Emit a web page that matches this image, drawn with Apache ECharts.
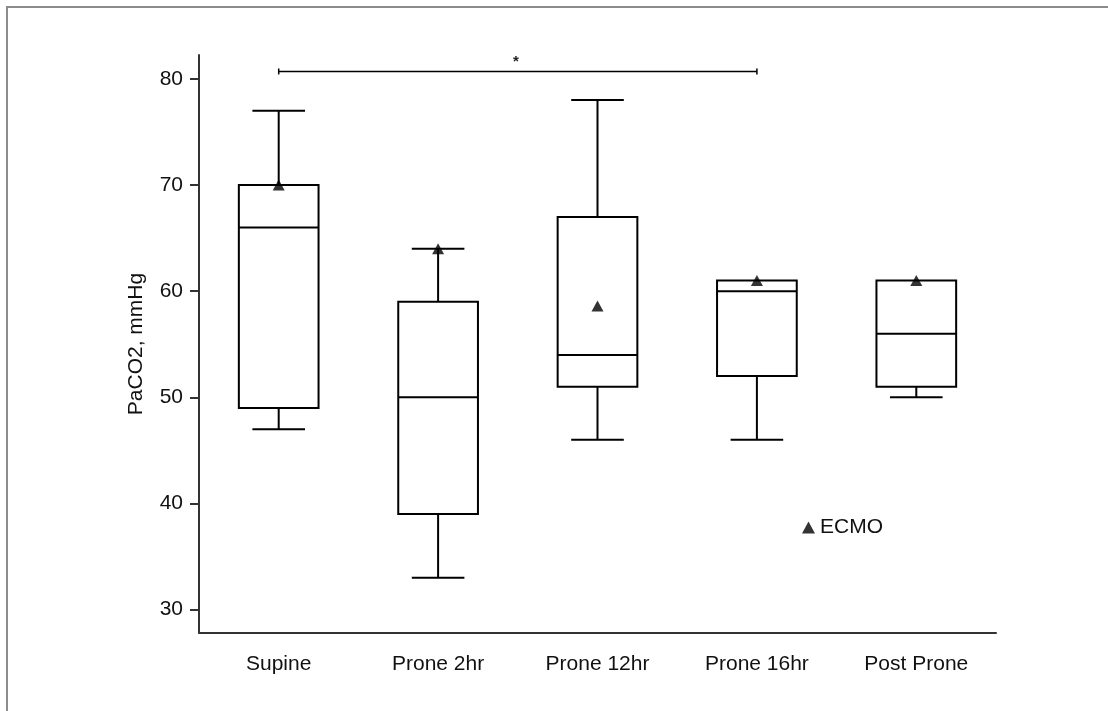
<!DOCTYPE html>
<html><head><meta charset="utf-8">
<script src="https://cdn.jsdelivr.net/npm/echarts@6/dist/echarts.min.js"></script>
<style>html,body{margin:0;padding:0;background:#fff}#c{width:1108px;height:711px}</style>
</head><body><div id="c"></div>
<script>
const categories = ['Supine', 'Prone 2hr', 'Prone 12hr', 'Prone 16hr', 'Post Prone'];
// [low whisker, Q1, median, Q3, high whisker]
const boxLow    = [47, 33, 46, 46, 50];
const boxQ1     = [49, 39, 51, 52, 51];
const boxMedian = [66, 50, 54, 60, 56];
const boxQ3     = [70, 59, 67, 61, 61];
const boxHigh   = [77, 64, 78, 61, 61];
const ecmo      = [70, 64, 58.6, 61, 61];
const yTicks    = [30, 40, 50, 60, 70, 80];
const sigFrom = 'Supine', sigTo = 'Prone 16hr', sigY = 80.7, sigLabel = '*';

const FONT = '"Liberation Sans", Arial, sans-serif';
const boxData = categories.map((c, i) => [i, boxLow[i], boxQ1[i], boxMedian[i], boxQ3[i], boxHigh[i]]);

const chart = echarts.init(document.getElementById('c'), null, {renderer: 'canvas'});
chart.setOption({
  backgroundColor: '#fff',
  animation: false,
  textStyle: {fontFamily: FONT},
  graphic: [{
    type: 'rect', silent: true,
    shape: {x: 7, y: 7, width: 1300, height: 900},
    style: {fill: 'none', stroke: '#8c8c8c', lineWidth: 2}
  }],
  grid: {left: 199, right: 112, top: 55, bottom: 78, containLabel: false},
  legend: {
    data: ['ECMO'], icon: 'triangle', left: 802, top: 517, padding: 0,
    itemWidth: 13, itemHeight: 12,
    textStyle: {fontSize: 21, color: '#111', fontFamily: FONT}
  },
  xAxis: {
    type: 'category', data: categories, boundaryGap: true,
    axisLine: {lineStyle: {color: '#333', width: 2}},
    axisTick: {alignWithLabel: true, length: 9, lineStyle: {color: '#333', width: 2}},
    axisLabel: {fontSize: 21, color: '#111', margin: 21, fontFamily: FONT},
    splitLine: {show: false}
  },
  yAxis: {
    type: 'value', min: 27.8, max: 82.25,
    name: 'PaCO2, mmHg', nameLocation: 'middle', nameGap: 52, nameRotate: 90,
    nameTextStyle: {fontSize: 21, color: '#111', fontFamily: FONT},
    axisLine: {show: true, lineStyle: {color: '#333', width: 2}},
    axisTick: {show: true, length: 9, customValues: yTicks, lineStyle: {color: '#333', width: 2}},
    axisLabel: {fontSize: 21, color: '#111', margin: 16, customValues: yTicks, fontFamily: FONT},
    splitLine: {show: false}
  },
  series: [
    {
      type: 'custom', name: 'box', data: boxData, z: 2,
      renderItem: function (params, api) {
        const i = api.value(0);
        const band = api.size([1, 0])[0];
        const hw = band * 0.25, cw = band * 0.165;
        const x = api.coord([i, 0])[0];
        const yl = api.coord([i, api.value(1)])[1];
        const y1 = api.coord([i, api.value(2)])[1];
        const ym = api.coord([i, api.value(3)])[1];
        const y3 = api.coord([i, api.value(4)])[1];
        const yh = api.coord([i, api.value(5)])[1];
        const st = {stroke: '#000', lineWidth: 2, fill: null};
        const ch = [
          {type: 'rect', shape: {x: x - hw, y: y3, width: 2 * hw, height: y1 - y3}, style: {stroke: '#000', lineWidth: 2, fill: '#fff'}},
          {type: 'line', shape: {x1: x - hw, y1: ym, x2: x + hw, y2: ym}, style: st}
        ];
        if (Math.abs(yh - y3) > 0.5) {
          ch.push({type: 'line', shape: {x1: x, y1: y3, x2: x, y2: yh}, style: st});
          ch.push({type: 'line', shape: {x1: x - cw, y1: yh, x2: x + cw, y2: yh}, style: st});
        }
        if (Math.abs(yl - y1) > 0.5) {
          ch.push({type: 'line', shape: {x1: x, y1: y1, x2: x, y2: yl}, style: st});
          ch.push({type: 'line', shape: {x1: x - cw, y1: yl, x2: x + cw, y2: yl}, style: st});
        }
        return {type: 'group', children: ch};
      }
    },
    {
      type: 'custom', name: 'sig', data: [[categories.indexOf(sigFrom), categories.indexOf(sigTo), sigY]], z: 2,
      renderItem: function (params, api) {
        const p1 = api.coord([api.value(0), api.value(2)]);
        const p2 = api.coord([api.value(1), api.value(2)]);
        const st = {stroke: '#000', lineWidth: 1.5};
        return {type: 'group', children: [
          {type: 'line', shape: {x1: p1[0], y1: p1[1], x2: p2[0], y2: p2[1]}, style: st},
          {type: 'line', shape: {x1: p1[0], y1: p1[1] - 3, x2: p1[0], y2: p1[1] + 3}, style: st},
          {type: 'line', shape: {x1: p2[0], y1: p2[1] - 3, x2: p2[0], y2: p2[1] + 3}, style: st},
          {type: 'text', style: {text: sigLabel, x: (p1[0] + p2[0]) / 2 - 2, y: p1[1] - 2, align: 'center', verticalAlign: 'bottom', font: 'bold 15px ' + FONT, fill: '#222'}}
        ]};
      }
    },
    {
      type: 'scatter', name: 'ECMO', data: ecmo, symbol: 'triangle', symbolSize: [12, 11], z: 5,
      itemStyle: {color: '#000'}
    }
  ]
});
</script></body></html>
